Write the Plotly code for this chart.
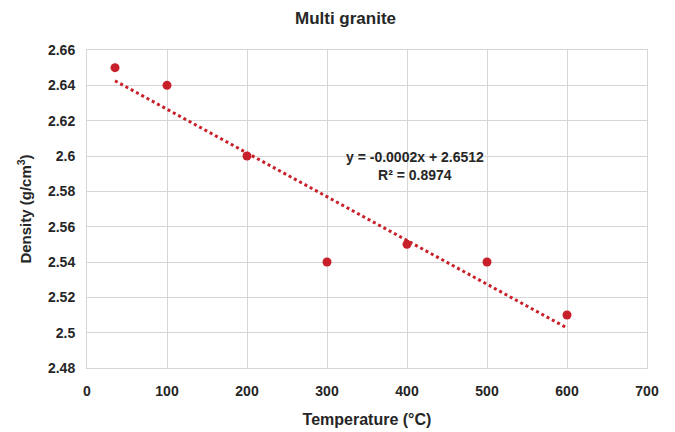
import numpy as np
import plotly.graph_objects as go

# data
temperature = [35, 100, 200, 300, 400, 500, 600]
density = [2.65, 2.64, 2.60, 2.54, 2.55, 2.54, 2.51]

x_ticks = [0, 100, 200, 300, 400, 500, 600, 700]
y_ticks = [2.48, 2.50, 2.52, 2.54, 2.56, 2.58, 2.60, 2.62, 2.64, 2.66]
y_tick_text = ["2.48", "2.5", "2.52", "2.54", "2.56", "2.58", "2.6", "2.62", "2.64", "2.66"]

RED = "#c8202a"
INK = "#262626"
FONT = "Liberation Sans Narrow, Arial Narrow, Liberation Sans, Arial, sans-serif"

# linear trendline (least squares)
slope, intercept = np.polyfit(temperature, density, 1)
trend_x = [min(temperature), max(temperature)]
trend_y = [slope * v + intercept for v in trend_x]

fig = go.Figure()
fig.add_trace(go.Scatter(
    x=trend_x, y=trend_y, mode="lines",
    line=dict(color=RED, width=3, dash="dot"),
    showlegend=False, hoverinfo="skip",
))
fig.add_trace(go.Scatter(
    x=temperature, y=density, mode="markers",
    marker=dict(color=RED, size=9),
    showlegend=False,
))

fig.add_annotation(
    x=410, y=2.5945, xref="x", yref="y", showarrow=False,
    text="<b>y = -0.0002x + 2.6512<br>R² = 0.8974</b>",
    font=dict(family=FONT, size=14, color=INK),
    align="center",
)

# page body adds ~8px offset, margins compensate
fig.update_layout(
    width=675, height=432,
    margin=dict(l=79, r=36, t=42, b=72, autoexpand=False),
    paper_bgcolor="white", plot_bgcolor="white",
    title=dict(text="<b>Multi granite</b>", x=0.5, xanchor="center",
               y=0.977, yanchor="middle",
               font=dict(family=FONT, size=17, color=INK)),
    font=dict(family=FONT, color=INK),
)
fig.update_xaxes(
    range=[0, 700], tickvals=x_ticks, automargin=False,
    showgrid=True, gridcolor="#d6d6d6", gridwidth=1,
    showline=True, linecolor="#d6d6d6", mirror=True, zeroline=False,
    tickfont=dict(family=FONT, size=14, color=INK, weight="bold"),
    title=dict(text="<b>Temperature (°C)</b>", standoff=16,
               font=dict(family=FONT, size=16, color=INK)),
    ticks="", ticklabelstandoff=10,
)
fig.update_yaxes(
    range=[2.48, 2.66], tickvals=y_ticks, ticktext=y_tick_text, automargin=False,
    showgrid=True, gridcolor="#d6d6d6", gridwidth=1,
    showline=True, linecolor="#d6d6d6", mirror=True, zeroline=False,
    tickfont=dict(family=FONT, size=14, color=INK, weight="bold"),
    title=dict(text="<b>Density (g/cm<sup>3</sup>)</b>", standoff=12,
               font=dict(family=FONT, size=15, color=INK)),
    ticks="", ticklabelstandoff=8,
)

fig.write_html("out.html")
